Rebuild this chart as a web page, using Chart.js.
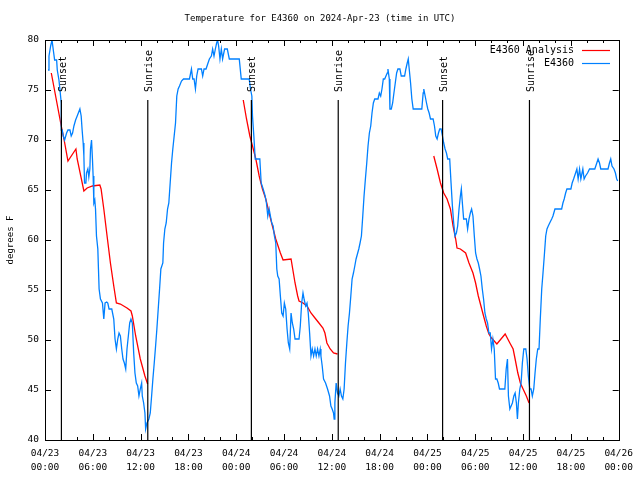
<!DOCTYPE html>
<html>
<head>
<meta charset="utf-8">
<script src="https://cdn.jsdelivr.net/npm/chart.js@4/dist/chart.umd.min.js"></script>
<style>
html,body{margin:0;padding:0;background:#fff;}
canvas{display:block;}
</style>
</head>
<body>
<canvas id="c" width="640" height="480"></canvas>
<script>
// ---- data (hours since 04/23 00:00 UTC, degrees F) ----
const chartTitle = "Temperature for E4360 on 2024-Apr-23 (time in UTC)";
const yAxisTitle = "degrees F";
const seriesNames = ["E4360 Analysis", "E4360"];

const xTickDates = ["04/23","04/23","04/23","04/23","04/24","04/24","04/24","04/24","04/25","04/25","04/25","04/25","04/26"];
const xTickTimes = ["00:00","06:00","12:00","18:00","00:00","06:00","12:00","18:00","00:00","06:00","12:00","18:00","00:00"];

const obsHours = [0.38,0.5,0.71,0.88,1.04,1.21,1.46,1.54,1.75,1.88,2.04,2.04,2.16,2.29,2.46,2.71,2.88,3.13,3.29,3.46,3.63,3.84,4.04,4.38,4.54,4.66,4.79,4.88,4.96,5.13,5.21,5.38,5.5,5.63,5.71,5.84,5.96,6.04,6.13,6.25,6.34,6.46,6.63,6.71,6.79,6.96,7.21,7.38,7.54,7.75,7.88,8.04,8.38,8.63,8.79,8.96,9.13,9.29,9.46,9.63,9.79,9.96,10.13,10.29,10.46,10.63,10.79,10.96,11.13,11.29,11.46,11.63,11.79,11.96,12.13,12.21,12.38,12.54,12.63,12.79,13.04,13.21,13.38,13.54,13.71,13.88,14.04,14.21,14.38,14.54,14.79,14.88,15.04,15.21,15.38,15.54,15.71,15.88,16.04,16.21,16.38,16.54,16.71,16.88,17.13,17.38,18.13,18.38,18.54,18.71,18.88,19.04,19.21,19.63,19.79,19.96,20.21,20.46,20.63,20.88,21.04,21.21,21.38,21.54,21.66,21.79,21.96,22.13,22.29,22.54,22.88,23.13,24.38,24.63,25.63,25.79,25.96,26.04,26.21,26.38,26.96,27.13,27.38,27.63,27.79,27.96,28.13,28.29,28.46,28.63,28.79,28.96,29.09,29.21,29.38,29.54,29.71,29.88,30.04,30.21,30.38,30.54,30.71,30.88,31.04,31.21,31.38,31.88,32.04,32.21,32.38,32.54,32.71,32.88,33.04,33.21,33.38,33.54,33.71,33.88,34.04,34.21,34.38,34.54,34.63,34.79,34.96,35.21,35.46,35.71,35.88,36.04,36.21,36.29,36.38,36.54,36.71,36.88,37.04,37.21,37.38,37.54,37.71,37.88,38.04,38.21,38.38,38.54,38.71,38.88,39.04,39.21,39.38,39.54,39.71,39.88,40.04,40.21,40.38,40.54,40.71,40.88,41.04,41.21,41.38,41.79,41.96,42.13,42.29,42.46,42.63,42.79,42.96,43.04,43.21,43.29,43.46,43.63,43.79,43.96,44.13,44.29,44.54,44.71,45.13,45.29,45.46,45.59,45.71,45.88,46.04,46.21,47.29,47.46,47.54,47.71,47.88,48.04,48.21,48.38,48.71,48.88,49.04,49.21,49.38,49.54,49.71,49.88,50.04,50.21,50.38,50.54,50.79,50.96,51.13,51.29,51.46,51.63,51.79,51.96,52.13,52.25,52.38,52.54,52.88,53.04,53.21,53.38,53.54,53.71,53.88,54.04,54.21,54.38,54.54,54.71,54.88,55.04,55.21,55.38,55.54,55.71,55.88,56.04,56.21,56.38,56.54,56.71,56.88,57.04,57.71,57.88,58.04,58.16,58.34,58.5,58.66,58.84,59.0,59.16,59.29,59.41,59.59,59.75,59.91,60.09,60.34,60.5,60.66,60.84,61.0,61.16,61.34,61.5,61.66,61.84,62.0,62.16,62.34,62.5,62.66,62.84,63.0,63.16,63.34,63.59,63.75,64.0,64.84,65.0,65.16,65.34,65.5,66.0,66.16,66.34,66.59,66.75,66.91,67.09,67.25,67.5,67.66,67.84,68.09,68.34,69.0,69.25,69.41,69.59,69.75,70.66,70.84,71.0,71.16,71.41,71.59,71.75,71.88];
const obsTemps = [77,78.4,79.4,80,79,78,78,77,76,75,73.7,71,71,70.4,70,70.7,71,71,70.4,70.7,71.4,72,72.4,73.1,72.4,71,69.7,68.4,65.7,65.7,66.7,67.1,66.3,67.1,69.1,70,68,66.4,63.7,64,63.1,60.4,59.1,57.1,55.1,54.1,53.7,52.1,53.7,53.8,53.7,53.1,53.1,52.1,50.1,49.1,50.1,50.7,50.4,49.1,48.1,47.7,47.1,49.1,50.4,51.7,52.1,51.7,48.7,46.7,45.7,45.4,44.4,45.1,45.7,44.4,43.7,42.7,41.1,41.7,42.1,42.7,44.4,46.1,47.7,49.4,51.1,53.1,55.1,57.1,57.7,59.7,61.1,61.7,63.1,63.7,65.7,67.7,69.1,70.4,71.7,74.4,75.1,75.4,75.9,76.1,76.1,77.1,76.1,76.1,75.1,76.4,77.1,77.1,76.4,77.1,77.1,77.7,78.1,78.4,79.1,78.4,79.1,79.7,80,79.4,78.1,79.1,78.1,79.1,79.1,78.1,78.1,76.1,76.1,75.1,74.4,72.4,70.4,68.1,68.1,65.7,65.1,64.4,63.7,62.4,63.1,62.4,61.7,61.4,60.4,59.7,57.1,56.4,56.1,54.4,52.7,52.4,53.7,53.1,51.1,49.7,49.1,52.7,51.7,51.1,50.1,50.1,51.4,53.7,54.7,54,53.4,53.7,52.7,50.7,48.4,49.1,48.4,49.1,48.4,49.1,48.4,49.1,48.4,47.4,46.1,45.7,45.1,44.4,43.4,43.1,42.7,42.1,43.7,45.7,44.7,44.4,45.1,44.4,44.1,45.1,47.7,49.7,51.4,52.7,54.4,56.1,56.7,57.4,58.1,58.6,59.1,59.7,60.4,62.4,64.4,66.1,67.7,69.4,70.7,71.4,72.7,73.7,74.1,74.1,74.7,74.4,75.1,76.1,76.1,76.4,76.7,77.1,76.1,73.1,73.1,73.7,74.7,75.7,76.7,77.1,77.1,76.4,76.4,77.1,77.7,78.1,77.1,75.7,74.1,73.1,73.1,74.7,75.1,74.4,73.7,73.1,72.7,72.1,72.1,71.4,70.4,70.1,70.7,71.1,71.1,70.4,69.7,69.1,68.7,68.1,68.1,65.7,63.4,61.7,60.4,60.7,61.4,63.1,64.4,65.1,63.7,62.1,62.1,61.1,62.1,62.7,63.1,62.4,60.4,58.7,58.1,57.7,57.1,56.4,55.1,54.1,52.7,52.1,51.7,50.7,50.7,49.1,50.1,49.1,46.1,46.1,45.7,45.1,45.1,47.1,48.1,44.4,43.1,43.4,43.7,44.4,44.7,43.7,42.1,43.7,45.1,45.7,47.7,49.1,49.1,48.1,46.4,45.1,45.1,44.4,45.1,46.7,48.1,49.1,49.1,52.1,55.1,56.7,58.4,60.4,61.1,61.4,61.7,62.1,62.4,63.1,63.1,63.7,64.1,64.7,65.1,65.1,65.7,66.1,66.7,67.1,66.1,67.1,66.1,67.1,66.1,66.4,66.7,67.1,67.1,67.7,68.1,67.7,67.1,67.1,67.7,68.1,67.4,67.1,66.7,66.1,65.9];

const anaHours = [0.79,2.04,2.38,2.88,3.88,4.04,4.88,5.29,5.96,6.88,7.04,7.38,7.79,8.21,8.63,8.96,9.46,10.29,10.79,10.96,11.38,11.96,12.54,12.88,
  18,
  24.88,25.29,25.71,26.04,26.46,26.88,27.29,27.71,28.13,28.54,28.96,29.54,29.88,30.88,31.38,31.71,31.88,32.38,32.88,33.38,33.88,34.38,34.88,35.13,35.38,35.79,36.21,36.71,
  42,
  48.79,49.21,49.63,50.04,50.46,50.88,51.21,51.54,51.71,52.13,52.79,53.21,53.71,54.04,54.38,54.71,55.04,55.38,55.71,56.04,56.71,57.75,58.34,58.75,59.0,59.34,59.66,60.0,60.41,60.75];
const anaTemps = [76.7,71.4,70.1,67.9,69.1,68.1,64.9,65.2,65.4,65.5,65.1,63.1,60.4,57.7,55.4,53.7,53.6,53.2,52.9,52.4,50.4,48.1,46.4,45.6,
  null,
  74.0,72.1,70.4,69.4,68.1,66.4,65.1,64.1,62.7,61.4,60.1,58.7,58.0,58.1,55.7,54.4,53.9,53.7,53.4,52.7,52.2,51.7,51.2,50.7,49.7,49.1,48.7,48.6,
  null,
  68.4,67.1,65.7,64.7,64.1,63.1,61.4,60.1,59.2,59.1,58.7,57.7,56.7,55.7,54.4,53.4,52.4,51.4,50.6,50.2,49.6,50.6,49.7,49.1,48.1,46.7,45.7,45.1,44.4,43.7];

const sunLabels = ["Sunset","Sunrise","Sunset","Sunrise","Sunset","Sunrise"];
const sunHours = [2.06,12.9,25.9,36.8,49.9,60.8];
const sunLineTop = 74;
const yMin = 40, yMax = 80, yStep = 5;
const xMin = 0, xMax = 72, xStep = 6, xMinorStep = 2;

// ---- build datasets ----
const FONT = "'DejaVu Sans Mono', 'Liberation Mono', monospace";
const RED = "#ff0000", BLUE = "#0080ff";

const obsData = obsHours.map((h, i) => ({x: h, y: obsTemps[i]}));
const anaData = anaHours.map((h, i) => ({x: h, y: anaTemps[i]}));
const sunData = [];
sunHours.forEach(h => { sunData.push({x: h, y: sunLineTop}); sunData.push({x: h, y: yMin}); sunData.push({x: h, y: null}); });

const framePlugin = {
  id: 'frame',
  beforeDraw(chart) {
    const ctx = chart.ctx;
    ctx.save();
    ctx.fillStyle = '#fff';
    ctx.fillRect(0, 0, chart.width, chart.height);
    ctx.restore();
  },
  afterDraw(chart) {
    const ctx = chart.ctx;
    const a = chart.chartArea;
    const xs = chart.scales.x, ys = chart.scales.y;
    ctx.save();
    ctx.strokeStyle = '#000';
    ctx.lineWidth = 1;
    ctx.strokeRect(Math.round(a.left) + 0.5, Math.round(a.top) + 0.5, Math.round(a.right - a.left), Math.round(a.bottom - a.top));
    ctx.beginPath();
    for (let v = yMin; v <= yMax; v += yStep) {
      const y = Math.round(ys.getPixelForValue(v)) + 0.5;
      ctx.moveTo(a.left, y); ctx.lineTo(a.left + 6, y);
      ctx.moveTo(a.right, y); ctx.lineTo(a.right - 6, y);
    }
    for (let v = xMin; v <= xMax; v += xMinorStep) {
      const x = Math.round(xs.getPixelForValue(v)) + 0.5;
      const len = (v % xStep === 0) ? 6 : 3;
      ctx.moveTo(x, a.bottom); ctx.lineTo(x, a.bottom - len);
      ctx.moveTo(x, a.top); ctx.lineTo(x, a.top + len);
    }
    ctx.stroke();

    ctx.fillStyle = '#000';
    ctx.font = "10px " + FONT;
    ctx.textAlign = 'left';
    ctx.textBaseline = 'middle';
    sunHours.forEach((h, i) => {
      const x = xs.getPixelForValue(h) + 1.5;
      ctx.save();
      ctx.translate(x, 92);
      ctx.rotate(-Math.PI / 2);
      ctx.fillText(sunLabels[i], 0, 0);
      ctx.restore();
    });

    ctx.font = "9px " + FONT;
    ctx.textAlign = 'center';
    ctx.fillText(chartTitle, 320, 19);

    ctx.save();
    ctx.translate(11, 240);
    ctx.rotate(-Math.PI / 2);
    ctx.textAlign = 'center';
    ctx.fillText(yAxisTitle, 0, 0);
    ctx.restore();

    ctx.font = "10px " + FONT;
    ctx.textAlign = 'right';
    const legendColors = [RED, BLUE];
    seriesNames.forEach((name, i) => {
      const y = 50 + i * 13;
      ctx.fillStyle = '#000';
      ctx.fillText(name, 574, y);
      ctx.strokeStyle = legendColors[i];
      ctx.lineWidth = 1.2;
      ctx.beginPath();
      ctx.moveTo(582, Math.round(y) + 0.5);
      ctx.lineTo(610, Math.round(y) + 0.5);
      ctx.stroke();
    });
    ctx.restore();
  }
};

new Chart(document.getElementById('c'), {
  type: 'line',
  data: {
    datasets: [
      {label: 'sun', data: sunData, borderColor: '#000', borderWidth: 1.2, pointRadius: 0, spanGaps: false, order: 0},
      {label: seriesNames[1], data: obsData, borderColor: BLUE, borderWidth: 1.3, pointRadius: 0, tension: 0, order: 1},
      {label: seriesNames[0], data: anaData, borderColor: RED, borderWidth: 1.3, pointRadius: 0, tension: 0, spanGaps: false, order: 2}
    ]
  },
  options: {
    responsive: false,
    animation: false,
    devicePixelRatio: 1,
    layout: {padding: {top: 40, right: 19, left: 0, bottom: 0}},
    plugins: {legend: {display: false}, tooltip: {enabled: false}, title: {display: false}},
    scales: {
      x: {
        type: 'linear', min: xMin, max: xMax,
        grid: {display: false, drawTicks: false},
        border: {display: false},
        afterFit(s) { s.height = 40; },
        afterBuildTicks(s) {
          const t = [];
          for (let v = xMin; v <= xMax; v += xStep) t.push({value: v});
          s.ticks = t;
        },
        ticks: {
          autoSkip: false, maxRotation: 0, padding: 7, color: '#000',
          font: {family: FONT, size: 9.5, lineHeight: 1.45},
          callback(v) { const i = Math.round(v / xStep); return [xTickDates[i], xTickTimes[i]]; }
        }
      },
      y: {
        type: 'linear', min: yMin, max: yMax,
        grid: {display: false, drawTicks: false},
        border: {display: false},
        afterFit(s) { s.width = 45; },
        ticks: {stepSize: yStep, padding: 6, color: '#000', font: {family: FONT, size: 9.5}}
      }
    }
  },
  plugins: [framePlugin]
});
</script>
</body>
</html>
